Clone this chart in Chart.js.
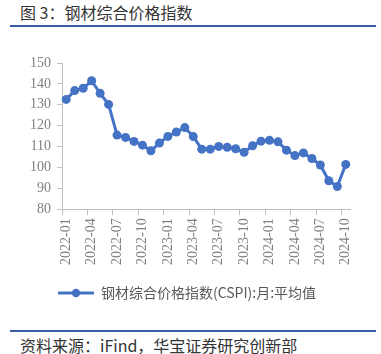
<!DOCTYPE html>
<html>
<head>
<meta charset="utf-8">
<script src="https://cdn.jsdelivr.net/npm/chart.js@4"></script>
<style>
body { margin: 0; width: 381px; height: 354px; background: #fff; position: relative; overflow: hidden; font-family: "Noto Sans CJK SC", sans-serif; }
#title { position: absolute; left: 20px; top: 1px; font-size: 16px; color: #333; line-height: 22px; }
.rule { position: absolute; left: 10px; width: 366px; height: 2px; background: #3b5ca8; }
#src { position: absolute; left: 20px; top: 334px; font-size: 16px; color: #333; line-height: 22px; }
#wrap { position: absolute; left: 0; top: 30px; width: 381px; height: 280px; }
</style>
</head>
<body>
<div id="title">图 3：钢材综合价格指数</div>
<div class="rule" style="top:25px"></div>
<div id="wrap"><canvas id="cspiChart"></canvas></div>
<div class="rule" style="top:330px"></div>
<div id="src">资料来源：iFind，华宝证券研究创新部</div>
<script>
// 月度类目
const months = [
    '2022-01', '2022-02', '2022-03', '2022-04', '2022-05', '2022-06',
    '2022-07', '2022-08', '2022-09', '2022-10', '2022-11', '2022-12',
    '2023-01', '2023-02', '2023-03', '2023-04', '2023-05', '2023-06',
    '2023-07', '2023-08', '2023-09', '2023-10', '2023-11', '2023-12',
    '2024-01', '2024-02', '2024-03', '2024-04', '2024-05', '2024-06',
    '2024-07', '2024-08', '2024-09', '2024-10'
];
// CSPI 月平均值
const cspi = [
    132.6, 136.8, 137.9, 141.5, 135.5, 130.2,
    115.5, 114.4, 112.5, 110.7, 108.0, 111.7,
    114.9, 117.0, 119.1, 114.8, 108.8, 108.8,
    110.1, 109.7, 109.0, 107.3, 110.4, 112.6,
    113.0, 112.3, 108.3, 105.7, 107.0, 104.3,
    101.2, 93.7, 90.9, 101.5
];
const seriesName = '钢材综合价格指数(CSPI):月:平均值';
const yMin = 80, yMax = 150, yStep = 10;

const blue = '#4472c4';
const axisGray = '#bfbfbf';
const tickGray = '#808080';

// 图例标记：线 + 圆点
const marker = document.createElement('canvas');
marker.width = 36; marker.height = 10;
const mctx = marker.getContext('2d');
mctx.strokeStyle = blue; mctx.lineWidth = 3;
mctx.beginPath(); mctx.moveTo(0, 5); mctx.lineTo(36, 5); mctx.stroke();
mctx.fillStyle = blue;
mctx.beginPath(); mctx.arc(18, 5, 4.2, 0, Math.PI * 2); mctx.fill();

const ctx = document.getElementById('cspiChart').getContext('2d');
const cspiChart = new Chart(ctx, {
    type: 'line',
    data: {
        labels: months,
        datasets: [{
            label: seriesName,
            data: cspi,
            borderColor: blue,
            backgroundColor: blue,
            borderWidth: 3,
            pointRadius: 4.5,
            pointBorderWidth: 0,
            pointBackgroundColor: blue,
            tension: 0,
            fill: false
        }]
    },
    options: {
        responsive: true,
        maintainAspectRatio: false,
        animation: false,
        layout: { padding: { top: 33, left: 24, right: 31, bottom: 0 } },
        plugins: {
            legend: {
                position: 'bottom',
                labels: {
                    usePointStyle: true,
                    pointStyle: marker,
                    pointStyleWidth: 36,
                    color: '#595959',
                    font: { family: '"Noto Sans CJK SC"', size: 14 },
                    padding: 18
                }
            },
            tooltip: { enabled: false }
        },
        scales: {
            x: {
                offset: true,
                grid: {
                    offset: true,
                    drawOnChartArea: false,
                    tickLength: 6,
                    tickColor: function (c) { return c.index % 3 === 0 ? axisGray : 'rgba(0,0,0,0)'; }
                },
                border: { color: axisGray, width: 1 },
                ticks: {
                    autoSkip: false,
                    maxRotation: 90,
                    minRotation: 90,
                    color: tickGray,
                    padding: 3,
                    font: { family: '"Liberation Serif"', size: 14 },
                    callback: function (v, i) { return i % 3 === 0 ? months[i] : ''; }
                }
            },
            y: {
                min: yMin,
                max: yMax,
                grid: { drawOnChartArea: false, tickLength: 5, tickColor: axisGray },
                border: { color: axisGray, width: 1 },
                ticks: {
                    stepSize: yStep,
                    color: tickGray,
                    padding: 6,
                    font: { family: '"Liberation Serif"', size: 14 }
                }
            }
        }
    }
});
</script>
</body>
</html>
